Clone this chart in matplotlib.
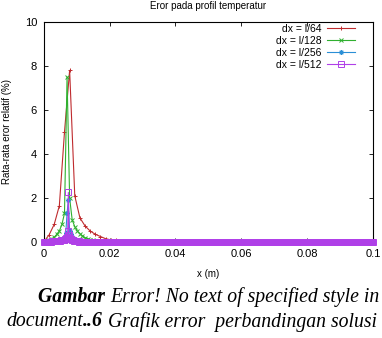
import numpy as np
import matplotlib
matplotlib.use('Agg')
import matplotlib.pyplot as plt

L = 0.1

# relative error (%); beyond the listed points it is ~0
err_64 = [0.02, 0.32, 0.8, 1.65, 5.0, 7.8, 2.1, 1.1, 0.73, 0.5, 0.35, 0.25,
          0.15, 0.1, 0.07, 0.05, 0.03, 0.02, 0.01]
err_128 = [0.02, 0.05, 0.1, 0.15, 0.22, 0.35, 0.5, 0.8, 1.3, 7.5, 2.0, 1.0,
           0.7, 0.5, 0.38, 0.28, 0.2, 0.15, 0.11, 0.08, 0.06, 0.04, 0.03,
           0.02, 0.01]
err_256 = [0.01, 0.02, 0.02, 0.03, 0.03, 0.04, 0.05, 0.05, 0.06, 0.07, 0.08,
           0.09, 0.1, 0.1, 0.13, 0.15, 0.18, 0.4, 1.3, 1.9, 0.5, 0.35, 0.25,
           0.18, 0.14, 0.11, 0.09, 0.07, 0.06, 0.05, 0.04, 0.03, 0.03, 0.02,
           0.02, 0.01]
err_512 = [0.01, 0.01, 0.01, 0.01, 0.01, 0.01, 0.02, 0.02, 0.02, 0.02, 0.02,
           0.02, 0.03, 0.03, 0.03, 0.03, 0.03, 0.04, 0.04, 0.04, 0.04, 0.05,
           0.05, 0.05, 0.06, 0.06, 0.07, 0.07, 0.08, 0.08, 0.09, 0.1, 0.11,
           0.12, 0.14, 0.17, 0.22, 0.5, 2.25, 0.3, 0.2, 0.15, 0.12, 0.1, 0.09,
           0.08, 0.07, 0.06, 0.05, 0.05, 0.04, 0.04, 0.03, 0.03, 0.03, 0.02,
           0.02, 0.02, 0.01, 0.01, 0.01]

series = [
    ('dx = l/64', 64, err_64, '#bf2b2e', '+', 3.5),
    ('dx = l/128', 128, err_128, '#30b030', 'x', 3.5),
    ('dx = l/256', 256, err_256, '#2a8fd6', (8, 2, 0), 3.5),
    ('dx = l/512', 512, err_512, '#b040e8', 's', 4.5),
]

plt.rcParams['font.family'] = ['Liberation Sans', 'DejaVu Sans']

fig = plt.figure(figsize=(3.82, 3.38), dpi=100)
ax = fig.add_axes([0.115, 0.284, 0.861, 0.651])

for label, n, vals, col, mk, ms in series:
    x = np.arange(n + 1) * L / n
    y = np.zeros(n + 1)
    y[:len(vals)] = vals
    ax.plot(x, y, color=col, lw=0.8, marker=mk, ms=ms, mew=0.7,
            mfc='none', label=label, clip_on=False, zorder=3)

ax.set_xlim(0, 0.1)
ax.set_ylim(0, 10)
ax.set_xticks([0, 0.02, 0.04, 0.06, 0.08, 0.1])
ax.set_xticklabels(['0', '0.02', '0.04', '0.06', '0.08', '0.1'])
ax.set_yticks([0, 2, 4, 6, 8, 10])
ax.tick_params(direction='in', top=True, right=True, labelsize=8,
               length=3, width=0.6)
ax.tick_params(axis='x', pad=5)
ax.tick_params(axis='y', pad=5)
for s in ax.spines.values():
    s.set_linewidth(0.8)

ax.set_title('Eror pada profil temperatur', fontsize=7, pad=9.5)
ax.set_xlabel('x (m)', fontsize=7, labelpad=7)
ax.set_ylabel('Rata-rata eror relatif (%)', fontsize=7, labelpad=9)

leg = ax.legend(loc='upper right', bbox_to_anchor=(0.965, 1.02),
                frameon=False, markerfirst=False, fontsize=7.5,
                handlelength=2.7, labelspacing=0.2,
                borderaxespad=0.2, handletextpad=0.5)
for t in leg.get_texts():
    t.set_ha('right')

# caption below the chart, mixed bold / italic pieces
fig.canvas.draw()
rend = fig.canvas.get_renderer()
cap_lines = [
    (38, 302, [('Gambar ', 'bold'), ('Error! No text of specified style in', 'normal')]),
    (6, 326.5, [('document', 'normal'), ('..6', 'bold'), (' Grafik error  perbandingan solusi', 'normal')]),
]
for x0, y0, pieces in cap_lines:
    xp = x0
    for txt, wt in pieces:
        t = fig.text(xp / 382, 1 - y0 / 338, txt, fontsize=14.2,
                     family='Liberation Serif', style='italic', weight=wt,
                     va='baseline', ha='left')
        xp += t.get_window_extent(rend).width

fig.savefig('out.png', dpi=100)
